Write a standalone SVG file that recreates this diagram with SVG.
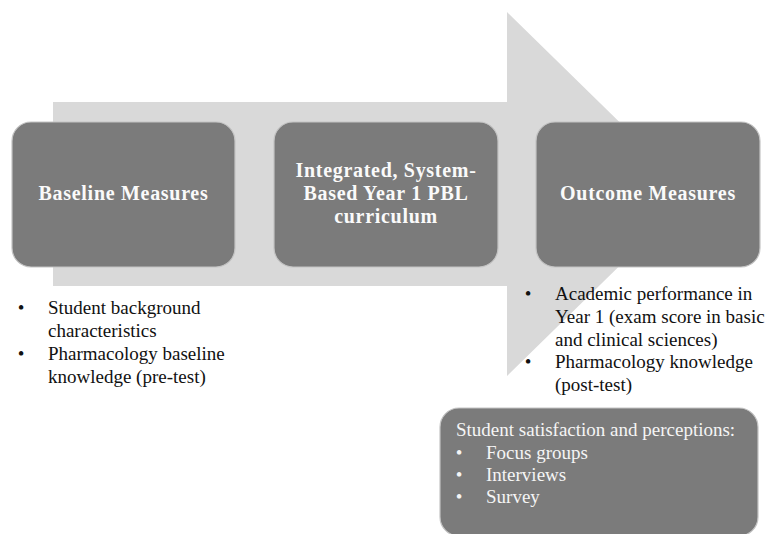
<svg xmlns="http://www.w3.org/2000/svg" width="767" height="534" viewBox="0 0 767 534">
<style>
.box{fill:#7b7b7b;stroke:#c4c4c4;stroke-width:1.2}
.title{font-family:"Liberation Serif","Times New Roman",serif;font-weight:bold;font-size:20px;letter-spacing:0.7px;fill:#fafafa;text-anchor:middle}
.body{font-family:"Liberation Serif","Times New Roman",serif;font-size:19px;fill:#111}
.light{fill:#f5f5f5}
.bul{text-anchor:middle}
</style>
<rect x="0" y="0" width="767" height="534" fill="#ffffff"/>
<g id="arrow">
<polygon points="53,102 507,102 507,12 693,194 507,376 507,286 53,286" fill="#d9d9d9"/>
</g>
<g id="connectors"/>
<g id="baseline">
<rect class="box" x="12" y="122" width="223" height="145" rx="19"/>
<text class="title" x="123.5" y="200">Baseline Measures</text>
</g>
<g id="curriculum">
<rect class="box" x="274" y="122" width="224" height="145" rx="19"/>
<text class="title" x="386" y="177">Integrated, System-</text>
<text class="title" x="386" y="200">Based Year 1 PBL</text>
<text class="title" x="386" y="223">curriculum</text>
</g>
<g id="outcome">
<rect class="box" x="536" y="122" width="224" height="145" rx="19"/>
<text class="title" x="648" y="200">Outcome Measures</text>
</g>
<g id="baseline-list">
<text class="body bul" x="21" y="314">•</text>
<text class="body" x="48" y="314">Student background</text>
<text class="body" x="48" y="337">characteristics</text>
<text class="body bul" x="21" y="360">•</text>
<text class="body" x="48" y="360">Pharmacology baseline</text>
<text class="body" x="48" y="383">knowledge (pre-test)</text>
</g>
<g id="outcome-list">
<text class="body bul" x="528" y="300">•</text>
<text class="body" x="555" y="300">Academic performance in</text>
<text class="body" x="555" y="323">Year 1 (exam score in basic</text>
<text class="body" x="555" y="346">and clinical sciences)</text>
<text class="body bul" x="528" y="368">•</text>
<text class="body" x="555" y="368">Pharmacology knowledge</text>
<text class="body" x="555" y="391">(post-test)</text>
</g>
<g id="satisfaction">
<rect class="box" x="440" y="408" width="318" height="128" rx="19"/>
<text class="body light" x="456" y="436">Student satisfaction and perceptions:</text>
<text class="body light bul" x="459" y="459">•</text>
<text class="body light" x="486" y="459">Focus groups</text>
<text class="body light bul" x="459" y="481">•</text>
<text class="body light" x="486" y="481">Interviews</text>
<text class="body light bul" x="459" y="503">•</text>
<text class="body light" x="486" y="503">Survey</text>
</g>
</svg>
